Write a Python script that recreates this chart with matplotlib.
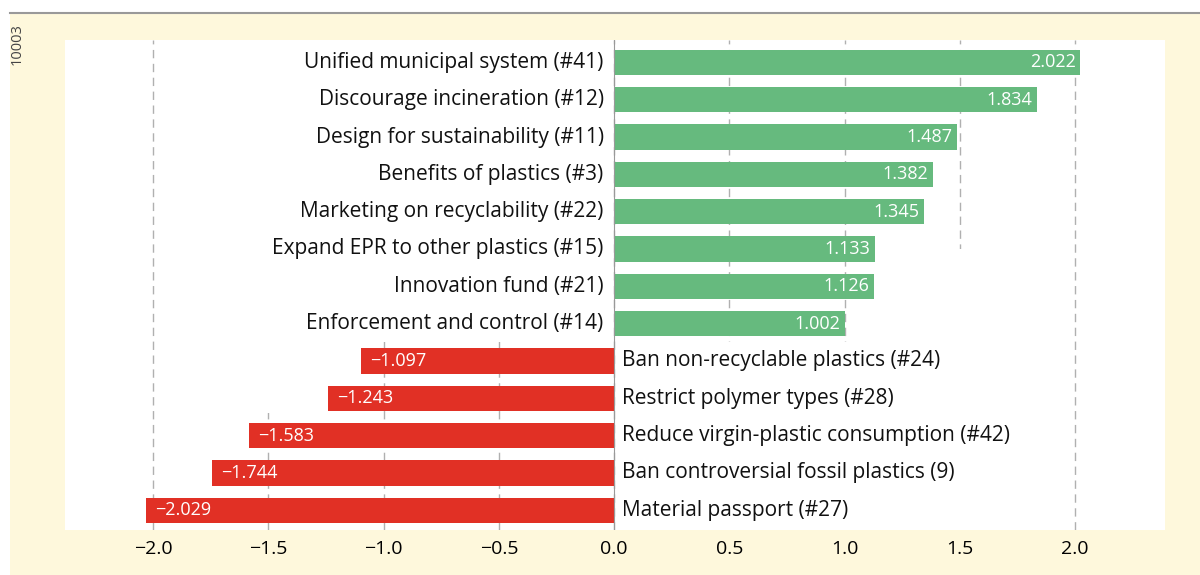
import matplotlib.pyplot as plt
from matplotlib.patches import Rectangle
from matplotlib.lines import Line2D

plt.rcParams['font.family'] = ['Open Sans', 'DejaVu Sans']

# measures, top to bottom
labels = [
    "Unified municipal system (#41)",
    "Discourage incineration (#12)",
    "Design for sustainability (#11)",
    "Benefits of plastics (#3)",
    "Marketing on recyclability (#22)",
    "Expand EPR to other plastics (#15)",
    "Innovation fund (#21)",
    "Enforcement and control (#14)",
    "Ban non-recyclable plastics (#24)",
    "Restrict polymer types (#28)",
    "Reduce virgin-plastic consumption (#42)",
    "Ban controversial fossil plastics (9)",
    "Material passport (#27)",
]
values = [2.022, 1.834, 1.487, 1.382, 1.345, 1.133, 1.126, 1.002,
          -1.097, -1.243, -1.583, -1.744, -2.029]
xticks = [-2.0, -1.5, -1.0, -0.5, 0.0, 0.5, 1.0, 1.5, 2.0]

green = '#66ba7e'
red = '#e13025'
cream = '#fef8dc'

fig = plt.figure(figsize=(12, 5.75), dpi=100, facecolor='white')
# cream panel and top rule
fig.add_artist(Rectangle((10 / 1200, 0), 1, 1 - 13 / 575, transform=fig.transFigure,
                         facecolor=cream, edgecolor='none', zorder=-10))
fig.add_artist(Line2D([10 / 1200, 1], [1 - 13 / 575] * 2, transform=fig.transFigure,
                      color='#999999', lw=1.5))
fig.text(17 / 1200, 1 - 44 / 575, "10003", rotation=90, ha='center', va='center',
         fontsize=10.5, color='#444444')

ax = fig.add_axes([65 / 1200, 45 / 575, 1100 / 1200, 490 / 575])
ax.set_facecolor('white')

n = len(labels)
n_pos = sum(v > 0 for v in values)
ypos = list(range(n))
colors = [green if v > 0 else red for v in values]
ax.barh(ypos, values, height=0.68, color=colors, zorder=2)

# white label panels hide the grid behind the category names
blocks = [(-1.9, -0.6, 1.88, n_pos + 0.1), (-1.9, n_pos - 0.5, 0.6, 1.9),
          (0.02, n_pos - 0.5, 1.88, n - n_pos + 1), (1.3, 5.0, 0.6, 2.5)]
for x0, y0, w, h in blocks:
    ax.add_patch(Rectangle((x0, y0), w, h, facecolor='white', edgecolor='none', zorder=1))

for y, v, lab in zip(ypos, values, labels):
    txt = f"{v:.3f}".replace('-', '\u2212')
    if v > 0:
        ax.text(v - 0.02, y, txt, ha='right', va='center', color='white', fontsize=13, zorder=3)
        ax.text(-0.045, y, lab, ha='right', va='center', color='#111111', fontsize=15, zorder=3)
    else:
        ax.text(v + 0.04, y, txt, ha='left', va='center', color='white', fontsize=13, zorder=3)
        ax.text(0.035, y, lab, ha='left', va='center', color='#111111', fontsize=15, zorder=3)

ax.axvline(0, color='#999999', lw=0.8, zorder=2.5)
ax.set_xlim(-2.382, 2.39)
ax.set_ylim(n - 0.47, -0.6)
ax.set_xticks(xticks)
ax.set_xticklabels([f"{t:.1f}".replace('-', '\u2212') for t in xticks], fontsize=14)
ax.set_yticks([])
ax.tick_params(axis='x', length=0, pad=7)
ax.set_axisbelow(True)
ax.grid(axis='x', color='#b0b0b0', linestyle=(0, (6, 4)), lw=1)
for s in ax.spines.values():
    s.set_visible(False)

fig.savefig('out.png', dpi=100, facecolor=fig.get_facecolor())
